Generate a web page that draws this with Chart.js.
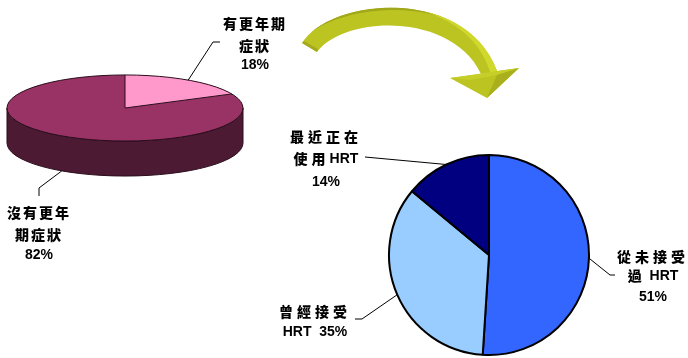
<!DOCTYPE html>
<html>
<head>
<meta charset="utf-8">
<script src="https://cdn.jsdelivr.net/npm/chart.js@4.4.1/dist/chart.umd.min.js"></script>
<style>
html, body { margin: 0; padding: 0; background: #fff; }
#wrap { position: relative; width: 688px; height: 358px; }
#wrap canvas { position: absolute; left: 0; top: 0; }
</style>
</head>
<body>
<div id="wrap">
  <canvas id="symptoms" width="688" height="358"></canvas>
  <canvas id="hrt" width="688" height="358"></canvas>
</div>
<script>
var symptomLabels = ['有更年期症狀', '沒有更年期症狀'];
var symptomValues = [18, 82];
var symptomColors = ['#FF99CC', '#993366'];
var symptomSides = ['#8a3a62', '#4d1a33'];

var hrtLabels = ['從未接受過 HRT', '曾經接受 HRT', '最近正在使用HRT'];
var hrtValues = [51, 35, 14];
var hrtColors = ['#3366FF', '#99CCFF', '#000080'];

// label placement: where the text wraps, line centres, and the elbow of the leader line
var symptomText = [
    { wrap: 4, cx: 255, ys: [24, 46, 65], spacing: 2, leader: [[220, 42], [213, 42]] },
    { wrap: 4, cx: 39, ys: [213, 235, 255], spacing: 2, leader: [[39, 196], [39, 188]] }
];
var hrtText = [
    { wrap: 4, cx: 653, ys: [257, 276, 297], spacing: 4, leader: [[615, 275], [610, 275]] },
    { wrap: 4, cx: 315, ys: [312, 332], spacing: 4, inline: true, leader: [[355, 319], [362, 319]] },
    { wrap: 4, cx: 326, ys: [137, 159, 182], spacing: 4, leader: [[365, 157]] }
];

// top face of the tilted pie
var TX = 125, TY = 108, SQUASH = 0.28, DEPTH = 35;

var CJK = /[\u3000-\u9fff]/;
var CJK_FONT = '900 14px "Noto Sans CJK TC"';
var LATIN_FONT = 'bold 14px "Liberation Sans"';

function drawLine(ctx, str, cx, y, spacing) {
    var parts = (str.match(/[\u3000-\u9fff]+|[^\u3000-\u9fff]+/g) || []).map(function(p) {
        var cjk = CJK.test(p);
        ctx.font = cjk ? CJK_FONT : LATIN_FONT;
        ctx.letterSpacing = cjk ? spacing + 'px' : '0px';
        return { text: p, cjk: cjk, w: ctx.measureText(p).width };
    });
    var total = 0;
    parts.forEach(function(p) { total += p.w; });
    var x = cx - total / 2;
    parts.forEach(function(p) {
        ctx.font = p.cjk ? CJK_FONT : LATIN_FONT;
        ctx.letterSpacing = p.cjk ? spacing + 'px' : '0px';
        ctx.fillText(p.text, x, y);
        x += p.w;
    });
    ctx.letterSpacing = '0px';
}

// text + leader lines for each slice; anchor() gives the point on the pie edge
function makeCallouts(id, labels, values, layout, anchor) {
    return {
        id: id,
        afterDraw: function(chart) {
            var ctx = chart.ctx;
            var arcs = chart.getDatasetMeta(0).data;
            ctx.save();
            ctx.fillStyle = '#000';
            ctx.textBaseline = 'middle';
            ctx.textAlign = 'left';
            layout.forEach(function(l, i) {
                var lab = labels[i];
                var lines = [lab.slice(0, l.wrap), lab.slice(l.wrap).trim()];
                var pct = values[i] + '%';
                if (l.inline) lines[1] = lines[1] + '  ' + pct;
                else lines.push(pct);
                lines.forEach(function(s, j) { drawLine(ctx, s, l.cx, l.ys[j], l.spacing); });

                var a = arcs[i];
                var mid = (a.startAngle + a.endAngle) / 2;
                var end = anchor(a, mid);
                ctx.beginPath();
                ctx.moveTo(l.leader[0][0], l.leader[0][1]);
                for (var k = 1; k < l.leader.length; k++) ctx.lineTo(l.leader[k][0], l.leader[k][1]);
                ctx.lineTo(end[0], end[1]);
                ctx.strokeStyle = '#000';
                ctx.lineWidth = 1;
                ctx.stroke();
            });
            ctx.restore();
        }
    };
}

// squashes the pie into an ellipse and gives it a front wall
var tilt = {
    id: 'tilt',
    beforeDatasetsDraw: function(chart) {
        var ctx = chart.ctx;
        var arcs = chart.getDatasetMeta(0).data;
        var R = arcs[0].outerRadius;
        arcs.forEach(function(a, i) {
            var s = Math.max(a.startAngle, 0), e = Math.min(a.endAngle, Math.PI);
            if (e <= s) return;
            ctx.beginPath();
            ctx.ellipse(TX, TY, R, R * SQUASH, 0, s, e);
            ctx.ellipse(TX, TY + DEPTH, R, R * SQUASH, 0, e, s, true);
            ctx.closePath();
            ctx.fillStyle = symptomSides[i];
            ctx.fill();
            ctx.strokeStyle = '#2a0d1b';
            ctx.lineWidth = 1;
            ctx.stroke();
        });
        ctx.save();
        ctx.translate(TX, TY);
        ctx.scale(1, SQUASH);
        ctx.translate(-arcs[0].x, -arcs[0].y);
    },
    afterDatasetsDraw: function(chart) {
        var ctx = chart.ctx;
        ctx.restore();
        var arcs = chart.getDatasetMeta(0).data;
        var R = arcs[0].outerRadius;
        ctx.beginPath();
        ctx.ellipse(TX, TY, R, R * SQUASH, 0, 0, Math.PI * 2);
        arcs.forEach(function(a) {
            ctx.moveTo(TX, TY);
            ctx.lineTo(TX + R * Math.cos(a.startAngle), TY + R * SQUASH * Math.sin(a.startAngle));
        });
        ctx.strokeStyle = '#2a0d1b';
        ctx.lineWidth = 1;
        ctx.stroke();
    }
};

// outer edge of the arrow ribbon
var OUTER = [[302, 43], [330, -2], [465, -15], [497, 71]];

function bez(p, t) {
    var u = 1 - t;
    return [
        u * u * u * p[0][0] + 3 * u * u * t * p[1][0] + 3 * u * t * t * p[2][0] + t * t * t * p[3][0],
        u * u * u * p[0][1] + 3 * u * u * t * p[1][1] + 3 * u * t * t * p[2][1] + t * t * t * p[3][1]
    ];
}

// strip hugging the outer edge, width w(t) measured inward
function edgeStrip(ctx, t0, t1, w) {
    var out = [], inn = [], n = 40;
    for (var i = 0; i <= n; i++) {
        var t = t0 + (t1 - t0) * i / n;
        var a = bez(OUTER, t), b = bez(OUTER, Math.min(t + 0.001, 1)), c = bez(OUTER, Math.max(t - 0.001, 0));
        var dx = b[0] - c[0], dy = b[1] - c[1], len = Math.sqrt(dx * dx + dy * dy);
        // inward normal (towards the centre of the curve)
        var nx = -dy / len, ny = dx / len;
        out.push(a);
        inn.push([a[0] + nx * w(t), a[1] + ny * w(t)]);
    }
    ctx.beginPath();
    ctx.moveTo(out[0][0], out[0][1]);
    out.forEach(function(p) { ctx.lineTo(p[0], p[1]); });
    for (var j = inn.length - 1; j >= 0; j--) ctx.lineTo(inn[j][0], inn[j][1]);
    ctx.closePath();
}

// curved 3D arrow between the two pies
var arrow = {
    id: 'arrow',
    beforeDraw: function(chart) {
        var ctx = chart.ctx;
        ctx.save();
        ctx.beginPath();
        ctx.moveTo(OUTER[0][0], OUTER[0][1]);
        ctx.bezierCurveTo(OUTER[1][0], OUTER[1][1], OUTER[2][0], OUTER[2][1], OUTER[3][0], OUTER[3][1]);
        ctx.lineTo(519, 68);
        ctx.lineTo(487, 98);
        ctx.lineTo(450, 78);
        ctx.lineTo(481, 74);
        ctx.bezierCurveTo(452, 12, 345, 15, 317, 52);
        ctx.closePath();
        ctx.fillStyle = '#bcc422';
        ctx.fill();

        // darker top rim of the ribbon
        edgeStrip(ctx, 0.08, 0.72, function(t) { return 2.5 * Math.sin(Math.PI * (t - 0.08) / 0.64); });
        ctx.fillStyle = '#a0a71a';
        ctx.fill();

        // bright outer face on the way down
        edgeStrip(ctx, 0.6, 1, function(t) { return 7 * (t - 0.6) / 0.4; });
        ctx.fillStyle = '#d0d82c';
        ctx.fill();

        // lighter top of the head
        ctx.beginPath();
        ctx.moveTo(450, 78);
        ctx.lineTo(519, 68);
        ctx.lineTo(497, 75);
        ctx.lineTo(470, 80);
        ctx.closePath();
        ctx.fillStyle = '#c6ce28';
        ctx.fill();

        // shaded right facet of the head
        ctx.beginPath();
        ctx.moveTo(519, 68);
        ctx.lineTo(487, 98);
        ctx.lineTo(497, 75);
        ctx.closePath();
        ctx.fillStyle = '#a9b01c';
        ctx.fill();

        // shadow on the cut end of the tail
        ctx.beginPath();
        ctx.moveTo(302, 43);
        ctx.lineTo(317, 52);
        ctx.lineTo(318, 49);
        ctx.lineTo(304, 41);
        ctx.closePath();
        ctx.fillStyle = '#a3aa1b';
        ctx.fill();
        ctx.restore();
    }
};

var symptomChart = new Chart(document.getElementById('symptoms'), {
    type: 'pie',
    data: {
        labels: symptomLabels,
        datasets: [{ data: symptomValues, backgroundColor: symptomColors, borderWidth: 0, clip: false }]
    },
    options: {
        responsive: false,
        animation: false,
        events: [],
        layout: { padding: { left: 7, right: 445, top: 0, bottom: 122 } },
        plugins: { legend: { display: false }, tooltip: { enabled: false } }
    },
    plugins: [tilt, makeCallouts('symptomText', symptomLabels, symptomValues, symptomText, function(a, m) {
        var R = a.outerRadius;
        var y = TY + R * SQUASH * Math.sin(m);
        if (Math.sin(m) > 0) y += DEPTH;
        return [TX + R * Math.cos(m), y];
    })]
});

var hrtChart = new Chart(document.getElementById('hrt'), {
    type: 'pie',
    data: {
        labels: hrtLabels,
        datasets: [{ data: hrtValues, backgroundColor: hrtColors, borderColor: '#000', borderWidth: 2 }]
    },
    options: {
        responsive: false,
        animation: false,
        events: [],
        layout: { padding: { left: 388, right: 98, top: 154, bottom: 2 } },
        plugins: { legend: { display: false }, tooltip: { enabled: false } }
    },
    plugins: [arrow, makeCallouts('hrtText', hrtLabels, hrtValues, hrtText, function(a, m) {
        return [a.x + a.outerRadius * Math.cos(m), a.y + a.outerRadius * Math.sin(m)];
    })]
});
</script>
</body>
</html>
